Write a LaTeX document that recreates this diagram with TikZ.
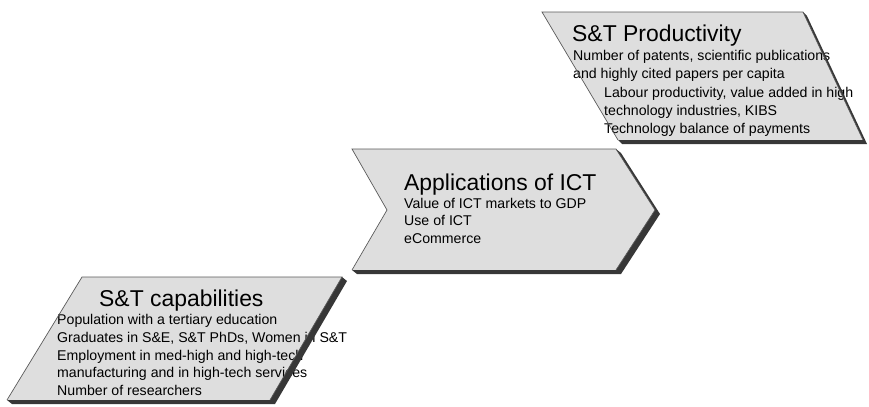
\documentclass[tikz,border=0pt]{standalone}
\usepackage{fontspec}
\setmainfont{Liberation Sans}
\usetikzlibrary{calc}
\definecolor{panelgray}{RGB}{222,222,222}
\definecolor{edgegray}{RGB}{90,90,90}
\definecolor{shadowgray}{RGB}{55,55,55}
\begin{document}
\begin{tikzpicture}[x=1bp,y=-1bp,
  shade/.style={fill=shadowgray},
  rim/.style={draw=edgegray, line width=0.7bp, line join=miter},
  heading/.style={font=\fontsize{23}{27}\selectfont, inner sep=0pt, anchor=base west},
  body/.style={font=\fontsize{14.2}{17}\selectfont, inner sep=0pt, anchor=base west},
]
\useasboundingbox (0,0) rectangle (869,406);

% ---------- S&T capabilities (parallelogram leaning right) ----------
\coordinate (cBL) at (7,400);
\coordinate (cTL) at (82,277);
\coordinate (cTR) at (342,277);
\coordinate (cBR) at (270,400);
\fill[panelgray] (cBL) -- (cTL) -- (cTR) -- (cBR) -- cycle;
\node[heading] (capT) at (99,306) {S\&T capabilities};
\node[body] (cap1) at (57,324) {Population with a tertiary education};
\node[body] (cap2) at (57,342) {Graduates in S\&E, S\&T PhDs, Women in S\&T};
\node[body] (cap3) at (57,360) {Employment in med-high and high-tech};
\node[body] (cap4) at (57,377.5) {manufacturing and in high-tech services};
\node[body] (cap5) at (57,395) {Number of researchers};
\fill[shade] (cTR) -- ($(cTR)+(5,4)$) -- ($(cBR)+(5,4)$) -- ($(cBL)+(5,4)$) -- (cBL) -- (cBR) -- cycle;
\draw[rim] (cBL) -- (cTL) -- (cTR) -- (cBR);

% ---------- Applications of ICT (chevron) ----------
\coordinate (aTL) at (352,149);
\coordinate (aTR) at (616,149);
\coordinate (aTip) at (655,210);
\coordinate (aBR) at (616,270);
\coordinate (aBL) at (352,270);
\coordinate (aNotch) at (387,210);
\fill[panelgray] (aTL) -- (aTR) -- (aTip) -- (aBR) -- (aBL) -- (aNotch) -- cycle;
\node[heading] (appT) at (404,190) {Applications of ICT};
\node[body] (app1) at (404,208) {Value of ICT markets to GDP};
\node[body] (app2) at (404,225.5) {Use of ICT};
\node[body] (app3) at (404,243) {eCommerce};
\fill[shade] (aTR) -- ($(aTR)+(5,4)$) -- ($(aTip)+(5,4)$) -- ($(aBR)+(5,4)$) -- ($(aBL)+(5,4)$) -- (aBL) -- (aBR) -- (aTip) -- cycle;
\draw[rim] (aBL) -- (aNotch) -- (aTL) -- (aTR) -- (aTip) -- (aBR);

% ---------- S&T Productivity (parallelogram leaning left) ----------
\coordinate (pTL) at (542,12);
\coordinate (pTR) at (803,12);
\coordinate (pBR) at (863,140);
\coordinate (pBL) at (618,140);
\fill[panelgray] (pTL) -- (pTR) -- (pBR) -- (pBL) -- cycle;
\node[heading] (proT) at (572,41) {S\&T Productivity};
\node[body] (pro1) at (573,60) {Number of patents, scientific publications};
\node[body] (pro2) at (573,78) {and highly cited papers per capita};
\node[body] (pro3) at (604,97) {Labour productivity, value added in high};
\node[body] (pro4) at (604,115) {technology industries, KIBS};
\node[body] (pro5) at (604,133) {Technology balance of payments};
\fill[shade] (pTR) -- ($(pTR)+(4,4)$) -- ($(pBR)+(4,4)$) -- ($(pBL)+(4,4)$) -- (pBL) -- (pBR) -- cycle;
\draw[rim] (pBL) -- (pTL) -- (pTR) -- (pBR);
\end{tikzpicture}
\end{document}
